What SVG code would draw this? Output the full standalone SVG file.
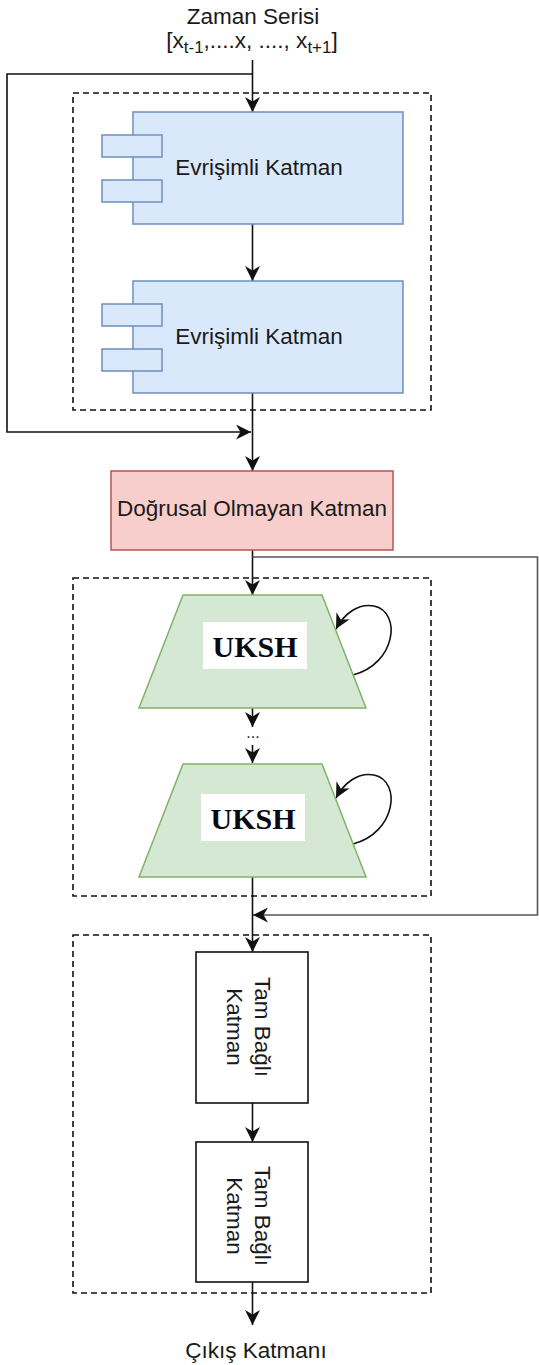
<svg xmlns="http://www.w3.org/2000/svg" width="539" height="1365" viewBox="0 0 539 1365">
  <defs>
    <marker id="arrowBig" viewBox="0 0 10 10" refX="10" refY="5" markerWidth="15" markerHeight="15" markerUnits="userSpaceOnUse" orient="auto">
      <path d="M0,0 L10,5 L0,10 L3,5 z" fill="#111"/>
    </marker>
  </defs>
  <style>
    .lbl { font-family: "Liberation Sans", Arial, sans-serif; font-size: 22.5px; fill: #1a1a1a; }
    .sub { font-size: 17px; }
    .uksh { font-family: "Liberation Serif", "Times New Roman", serif; font-size: 30px; font-weight: bold; fill: #0a0a14; }
    .grp { fill: none; stroke: #111; stroke-width: 1.6; stroke-dasharray: 6 4; }
    .conv { fill: #dae8fc; stroke: #6c8ebf; stroke-width: 1.5; }
    .nonlin { fill: #f8cecc; stroke: #b85450; stroke-width: 1.5; }
    .lstm { fill: #d5e8d4; stroke: #82b366; stroke-width: 1.5; }
    .dense { fill: #fff; stroke: #111; stroke-width: 1.6; }
    .edge { fill: none; stroke: #111; stroke-width: 1.6; }
    .edge-light { fill: none; stroke: #555; stroke-width: 1.6; }
  </style>
  <rect width="539" height="1365" fill="#fff"/>

  <!-- input label -->
  <g id="input">
    <text class="lbl" x="253" y="24" text-anchor="middle">Zaman Serisi</text>
    <text class="lbl" x="252" y="48" text-anchor="middle">[x<tspan class="sub" dy="5">t-1</tspan><tspan dy="-5">,....x, ...., x</tspan><tspan class="sub" dy="5">t+1</tspan><tspan dy="-5">]</tspan></text>
  </g>

  <!-- grouping frames -->
  <g id="frames">
    <rect class="grp" x="73" y="93" width="358" height="317"/>
    <rect class="grp" x="73" y="578" width="358" height="318"/>
    <rect class="grp" x="73" y="935" width="358" height="358"/>
  </g>

  <!-- connectors -->
  <g id="connectors">
    <line class="edge" x1="252.5" y1="60" x2="252.5" y2="112" marker-end="url(#arrowBig)"/>
    <polyline class="edge" points="252.5,74 7,74 7,432 251,432" marker-end="url(#arrowBig)"/>
    <line class="edge" x1="252.5" y1="224" x2="252.5" y2="281" marker-end="url(#arrowBig)"/>
    <line class="edge" x1="252.5" y1="393" x2="252.5" y2="471" marker-end="url(#arrowBig)"/>
    <line class="edge" x1="252.5" y1="550" x2="252.5" y2="595" marker-end="url(#arrowBig)"/>
    <polyline class="edge-light" points="252.5,557 537.5,557 537.5,915 253,915" marker-end="url(#arrowBig)"/>
    <line class="edge" x1="252.5" y1="708" x2="252.5" y2="727" marker-end="url(#arrowBig)"/>
    <line class="edge" x1="252.5" y1="745" x2="252.5" y2="763" marker-end="url(#arrowBig)"/>
    <path class="edge" d="M353,675 C396,664 402,612 374,606 C358,603 344,614 336,629" marker-end="url(#arrowBig)"/>
    <path class="edge" d="M353,844 C396,833 402,781 374,775 C358,772 344,783 336,798" marker-end="url(#arrowBig)"/>
    <line class="edge" x1="252.5" y1="877" x2="252.5" y2="952" marker-end="url(#arrowBig)"/>
    <line class="edge" x1="252.5" y1="1103" x2="252.5" y2="1142" marker-end="url(#arrowBig)"/>
    <line class="edge" x1="252.5" y1="1282" x2="252.5" y2="1325" marker-end="url(#arrowBig)"/>
  </g>

  <!-- convolution layers -->
  <g id="conv1">
    <rect class="conv" x="133" y="112" width="270" height="112"/>
    <rect class="conv" x="102" y="135" width="60" height="22"/>
    <rect class="conv" x="102" y="180" width="60" height="22"/>
    <text class="lbl" x="259" y="175" text-anchor="middle">Evrişimli Katman</text>
  </g>
  <g id="conv2">
    <rect class="conv" x="133" y="281" width="270" height="112"/>
    <rect class="conv" x="102" y="304" width="60" height="22"/>
    <rect class="conv" x="102" y="349" width="60" height="22"/>
    <text class="lbl" x="259" y="344" text-anchor="middle">Evrişimli Katman</text>
  </g>

  <!-- non-linear layer -->
  <g id="nonlinear">
    <rect class="nonlin" x="111" y="471" width="282" height="79"/>
    <text class="lbl" x="252" y="516" text-anchor="middle">Doğrusal Olmayan Katman</text>
  </g>

  <!-- recurrent layers -->
  <g id="lstm1">
    <polygon class="lstm" points="183,595 322,595 366,708 139,708"/>
    <rect x="203" y="622" width="104" height="47" fill="#fff"/>
    <text class="uksh" x="255" y="657" text-anchor="middle">UKSH</text>
  </g>
  <g id="ellipsis">
    <text class="lbl" x="253" y="738" text-anchor="middle" style="font-size:16px">...</text>
  </g>
  <g id="lstm2">
    <polygon class="lstm" points="183,764 322,764 366,877 139,877"/>
    <rect x="201" y="794" width="104" height="47" fill="#fff"/>
    <text class="uksh" x="253" y="829" text-anchor="middle">UKSH</text>
  </g>

  <!-- fully connected layers -->
  <g id="dense1">
    <rect class="dense" x="196" y="952" width="112" height="151"/>
    <g transform="translate(252,1027) rotate(90)">
      <text class="lbl" x="0" y="-3" text-anchor="middle">Tam Bağlı</text>
      <text class="lbl" x="0" y="25" text-anchor="middle">Katman</text>
    </g>
  </g>
  <g id="dense2">
    <rect class="dense" x="196" y="1142" width="112" height="140"/>
    <g transform="translate(252,1216) rotate(90)">
      <text class="lbl" x="0" y="-3" text-anchor="middle">Tam Bağlı</text>
      <text class="lbl" x="0" y="25" text-anchor="middle">Katman</text>
    </g>
  </g>

  <!-- output label -->
  <g id="output">
    <text class="lbl" x="256" y="1358" text-anchor="middle">Çıkış Katmanı</text>
  </g>
</svg>
